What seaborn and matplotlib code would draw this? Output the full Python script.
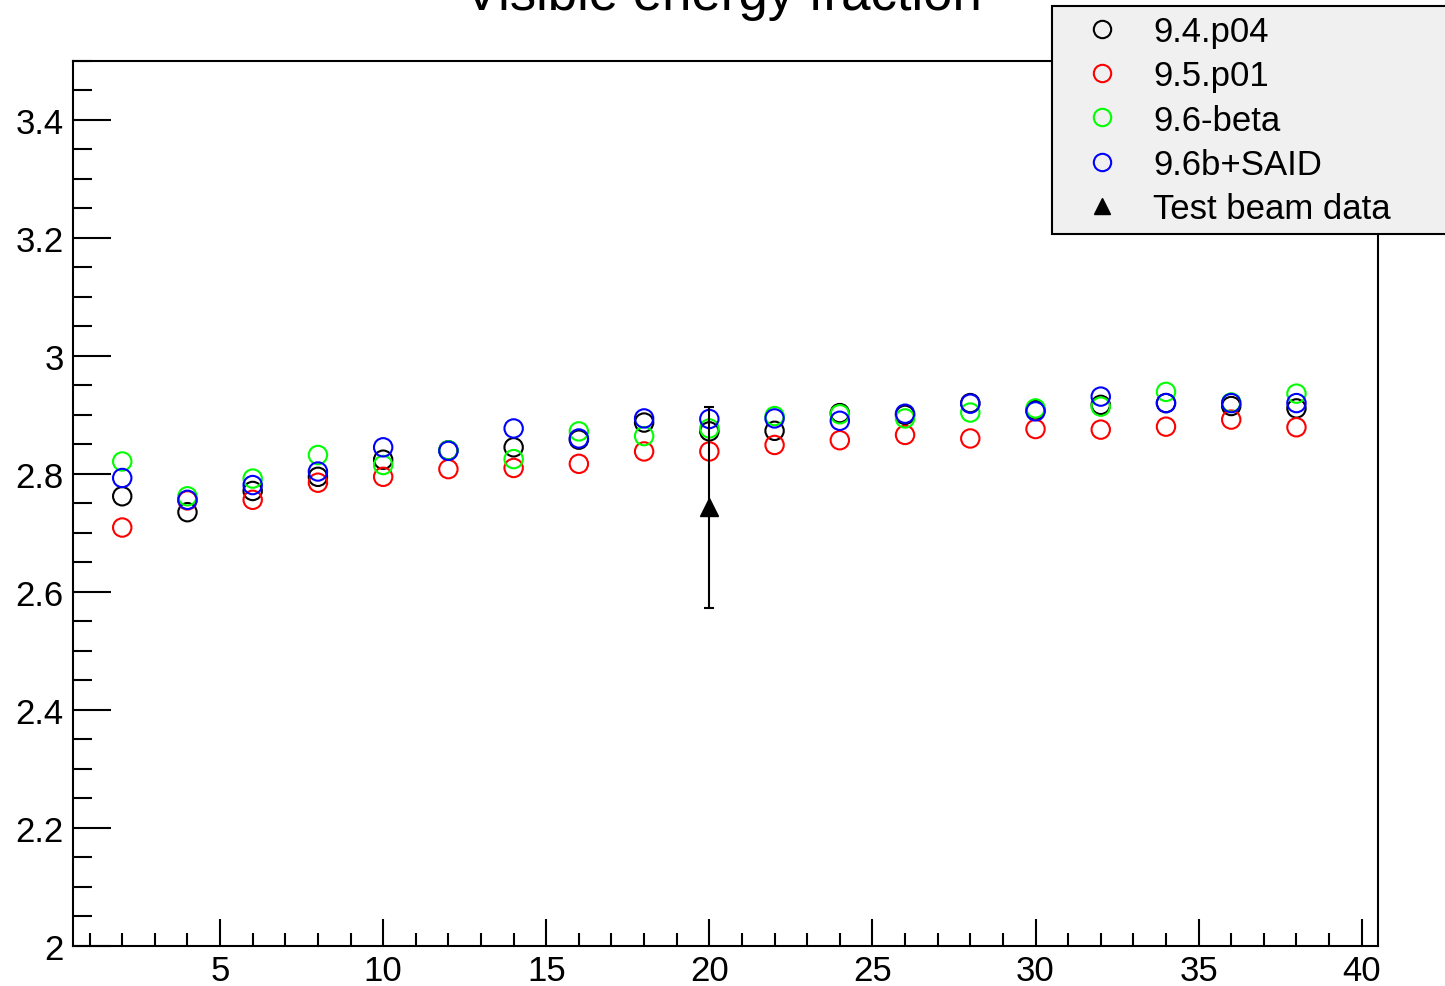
import numpy as np
import pandas as pd
import matplotlib
matplotlib.use("Agg")
import matplotlib.pyplot as plt
from matplotlib.lines import Line2D
from matplotlib.ticker import MultipleLocator, FuncFormatter
import seaborn as sns

# ---- data ----
energy = [2, 4, 6, 8, 10, 12, 14, 16, 18, 20, 22, 24, 26, 28, 30, 32, 34, 36, 38]
v94_p04 = [2.762, 2.735, 2.771, 2.795, 2.824, 2.840, 2.845, 2.858, 2.887, 2.872,
           2.873, 2.903, 2.900, 2.920, 2.908, 2.917, 2.920, 2.915, 2.911]
v95_p01 = [2.709, 2.755, 2.756, 2.785, 2.795, 2.808, 2.810, 2.817, 2.838, 2.838,
           2.849, 2.857, 2.866, 2.860, 2.876, 2.875, 2.880, 2.892, 2.879]
v96_beta = [2.821, 2.762, 2.792, 2.832, 2.815, 2.840, 2.825, 2.872, 2.864, 2.877,
            2.898, 2.901, 2.894, 2.904, 2.911, 2.914, 2.939, 2.921, 2.936]
v96b_said = [2.793, 2.756, 2.781, 2.804, 2.845, 2.839, 2.877, 2.860, 2.894, 2.893,
             2.894, 2.890, 2.902, 2.919, 2.906, 2.931, 2.920, 2.920, 2.920]
series_names = ["9.4.p04", "9.5.p01", "9.6-beta", "9.6b+SAID"]
series_colors = ["#000000", "#ff0000", "#00ff00", "#0000ff"]
testbeam_x = [20]
testbeam_y = [2.743]
testbeam_err = [0.17]
y_ticks = [2.0, 2.2, 2.4, 2.6, 2.8, 3.0, 3.2, 3.4]
x_ticks = [5, 10, 15, 20, 25, 30, 35, 40]

sns.set_theme(style="ticks")
plt.rcParams["font.family"] = ["Liberation Sans", "DejaVu Sans"]

W, H = 1445, 987
fig = plt.figure(figsize=(W / 100, H / 100), dpi=100)
ax = fig.add_axes([73.3 / W, 1 - 946.7 / H, (1378 - 73.3) / W, (946.7 - 62) / H])

df = pd.DataFrame({
    "E": energy * 4,
    "val": v94_p04 + v95_p01 + v96_beta + v96b_said,
    "ver": sum([[n] * len(energy) for n in series_names], []),
})
sns.scatterplot(data=df, x="E", y="val", hue="ver", hue_order=series_names,
                palette=series_colors, marker="o", s=175, linewidth=1.5,
                legend=False, ax=ax, zorder=3)
for coll in ax.collections:
    fc = coll.get_facecolors()
    coll.set_edgecolors(fc)
    coll.set_facecolors("none")

ax.errorbar(testbeam_x, testbeam_y, yerr=testbeam_err, fmt="^", color="black",
            markersize=13, elinewidth=1.5, capsize=3.5, capthick=1.5, zorder=4)

ax.set_xlim(0.5, 40.5)
ax.set_ylim(2.0, 3.5)
ax.set_xticks(x_ticks)
ax.set_yticks(y_ticks)
ax.xaxis.set_minor_locator(MultipleLocator(1))
ax.yaxis.set_minor_locator(MultipleLocator(0.05))
ax.yaxis.set_major_formatter(FuncFormatter(lambda v, p: f"{v:g}"))
ax.set_xlabel("")
ax.set_ylabel("")
ax.tick_params(axis="both", which="both", direction="in", top=False, right=False,
               width=1.5, colors="black", labelsize=25)
ax.tick_params(axis="y", which="major", length=27.5, pad=7)
ax.tick_params(axis="y", which="minor", length=13.7)
ax.tick_params(axis="x", which="major", length=19.5, pad=6)
ax.tick_params(axis="x", which="minor", length=9.5)
for sp in ax.spines.values():
    sp.set_visible(True)
    sp.set_linewidth(1.5)
    sp.set_color("black")

fig.text(723 / W, 1 - 10 / H, "Visible energy fraction", ha="center",
         va="baseline", fontsize=38, color="black")

handles = [Line2D([], [], linestyle="none", marker="o", markersize=12.5,
                  markerfacecolor="none", markeredgecolor=c, markeredgewidth=1.5)
           for c in series_colors]
handles.append(Line2D([], [], linestyle="none", marker="^", markersize=12, color="black"))
labels = series_names + ["Test beam data"]
x0 = 1052 / W
y1 = 1 - 7 / H
leg = fig.legend(handles, labels, loc="upper left",
                 bbox_to_anchor=(x0, y1 - 221 / H, 1480 / W - x0, 221 / H),
                 mode="expand", borderaxespad=0, fontsize=25, frameon=True,
                 fancybox=False, framealpha=1, facecolor="#f0f0f0",
                 edgecolor="black", handlelength=2.34, handletextpad=0.3,
                 labelspacing=0.32, borderpad=0.27)
leg.get_frame().set_linewidth(1.5)
for t in leg.get_texts():
    t.set_color("black")

fig.savefig("out.png", dpi=100)
